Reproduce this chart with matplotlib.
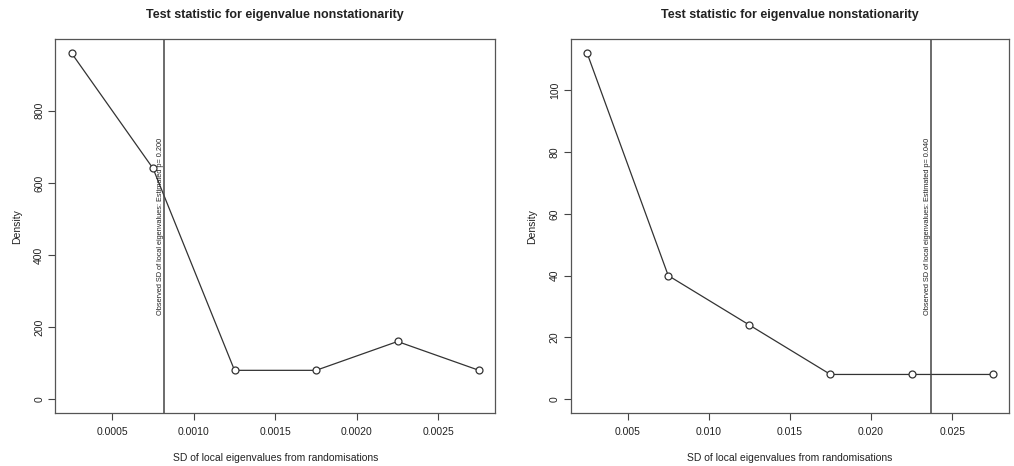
import matplotlib
matplotlib.use("Agg")
import matplotlib.pyplot as plt
import numpy as np

plt.rcParams['font.family'] = ['Liberation Sans', 'DejaVu Sans']

# --- data ---
left_x = [0.00025, 0.00075, 0.00125, 0.00175, 0.00225, 0.00275]
left_y = [960, 640, 80, 80, 160, 80]
left_obs = 0.00082
left_p = "0.200"
left_xticks = [0.0005, 0.0010, 0.0015, 0.0020, 0.0025]
left_xticklabels = ["0.0005", "0.0010", "0.0015", "0.0020", "0.0025"]
left_yticks = [0, 200, 400, 600, 800]

right_x = [0.0025, 0.0075, 0.0125, 0.0175, 0.0225, 0.0275]
right_y = [112, 40, 24, 8, 8, 8]
right_obs = 0.0237
right_p = "0.040"
right_xticks = [0.005, 0.010, 0.015, 0.020, 0.025]
right_xticklabels = ["0.005", "0.010", "0.015", "0.020", "0.025"]
right_yticks = [0, 20, 40, 60, 80, 100]

title = "Test statistic for eigenvalue nonstationarity"
xlabel = "SD of local eigenvalues from randomisations"
ylabel = "Density"

fig = plt.figure(figsize=(10.14, 4.66), dpi=100)
ax1 = fig.add_axes([0.0545, 0.1137, 0.434, 0.802])
ax2 = fig.add_axes([0.563, 0.1137, 0.432, 0.802])


def r_range(vals):
    # R's default 4% axis extension
    lo, hi = min(vals), max(vals)
    pad = 0.04 * (hi - lo)
    return lo - pad, hi + pad


def draw_panel(ax, xs, ys, obs, pval, xticks, xticklabels, yticks):
    ax.plot(xs, ys, color='#333333', lw=0.9, marker='o', ms=5,
            mfc='white', mec='#333333', mew=0.9)
    ax.set_xlim(*r_range(xs))
    ax.set_ylim(*r_range([0] + list(ys)))
    ax.axvline(obs, color='#444444', lw=1.1)
    ax.text(obs, max(ys) / 2, "Observed SD of local eigenvalues: Estimated p= " + pval,
            rotation=90, ha='right', va='center', fontsize=5.3, color='#222222')
    ax.set_xticks(xticks)
    ax.set_xticklabels(xticklabels)
    ax.set_yticks(yticks)
    ax.set_yticklabels([str(v) for v in yticks], rotation=90, va='center')
    ax.tick_params(direction='out', length=5, width=0.8, colors='#444444',
                   labelcolor='#222222', labelsize=7.5)
    ax.tick_params(axis='x', pad=5)
    ax.tick_params(axis='y', pad=3)
    for s in ax.spines.values():
        s.set_color('#555555')
        s.set_linewidth(0.9)
    ax.set_title(title, fontsize=9, fontweight='bold', pad=15.5, color='#222222')
    ax.set_xlabel(xlabel, fontsize=7.5, labelpad=11.5, color='#222222')
    ax.set_ylabel(ylabel, fontsize=7.5, labelpad=9, color='#222222')


draw_panel(ax1, left_x, left_y, left_obs, left_p, left_xticks, left_xticklabels, left_yticks)
draw_panel(ax2, right_x, right_y, right_obs, right_p, right_xticks, right_xticklabels, right_yticks)

fig.savefig("out.png", dpi=100, facecolor='white')
